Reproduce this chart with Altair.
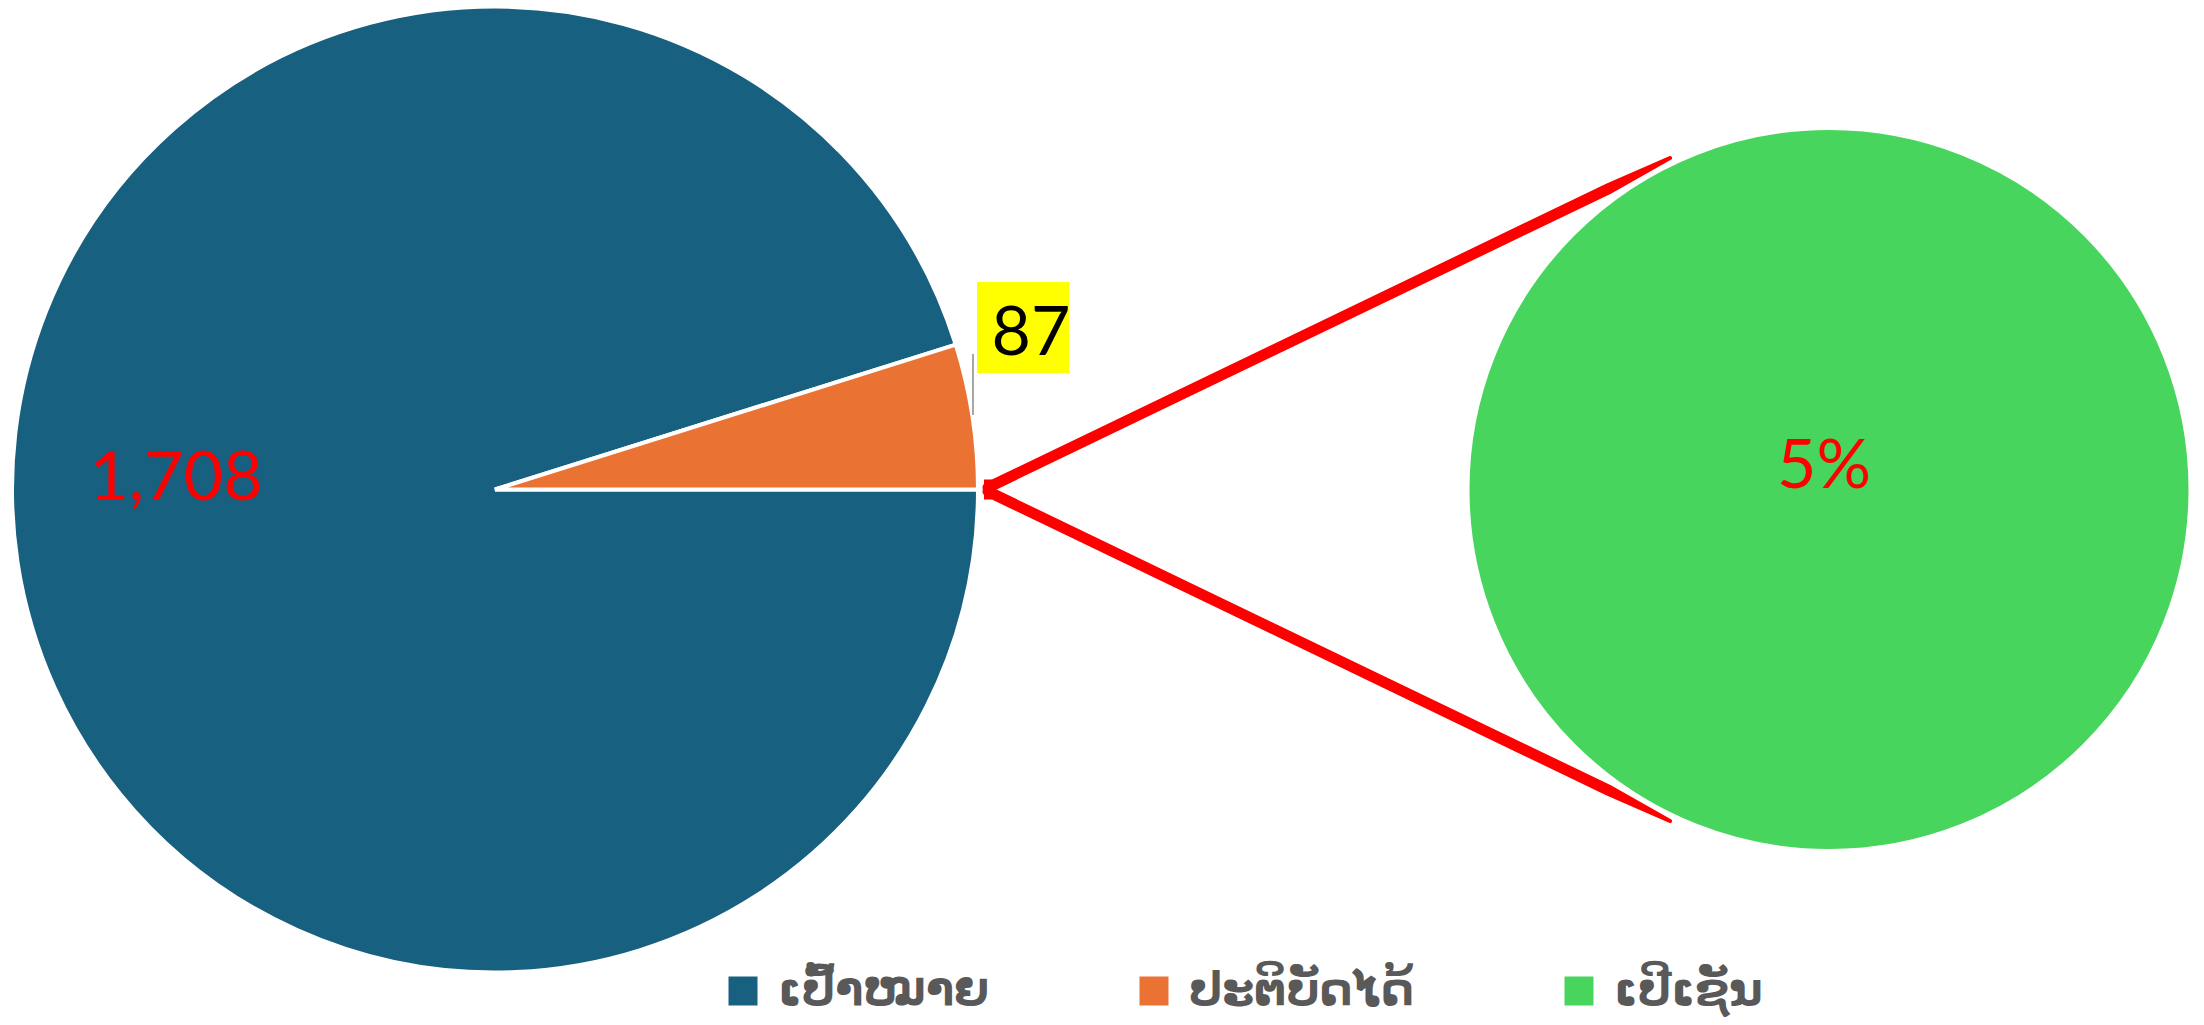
import math
import altair as alt
import pandas as pd

# ---- data ----
categories = ["ເປົ້າໝາຍ", "ປະຕິບັດໄດ້", "ເປີເຊັນ"]
colors = ["#17607F", "#EA7333", "#48D55D"]
main_values = [1708, 87]       # target, achieved
percent_values = [5]           # achieved as percent

left_df = pd.DataFrame({"cat": categories[:2], "v": main_values, "idx": [0, 1]})
right_df = pd.DataFrame({"cat": [categories[2]], "v": percent_values, "idx": [0]})
one = pd.DataFrame({"a": [0]})

W, H = 2188, 1009
start = math.pi / 2
theta_scale = alt.Scale(range=[start, start + 2 * math.pi])

color = alt.Color(
    "cat:N",
    scale=alt.Scale(domain=categories, range=colors),
    legend=alt.Legend(
        title=None,
        orient="none",
        legendX=712,
        legendY=960,
        direction="horizontal",
        symbolType="square",
        symbolSize=841,
        symbolStrokeWidth=0,
        labelFont="DejaVu Sans",
        labelFontSize=46,
        labelFontWeight="bold",
        labelColor="#595959",
        labelOffset=12,
        labelLimit=0,
        columnPadding=142,
    ),
)

left_pie = alt.Chart(left_df).mark_arc(radius=483, stroke="white", strokeWidth=4).encode(
    theta=alt.Theta("v:Q", stack=True, scale=theta_scale),
    color=color,
    order=alt.Order("idx:Q"),
    x=alt.value(487),
    y=alt.value(481.5),
)

right_pie = alt.Chart(right_df).mark_arc(radius=361.5, stroke="white", strokeWidth=4).encode(
    theta=alt.Theta("v:Q", stack=True, scale=theta_scale),
    color=color,
    order=alt.Order("idx:Q"),
    x=alt.value(1821),
    y=alt.value(481.5),
)

label_font = "Lato"

lbl_target = alt.Chart(pd.DataFrame({"t": [main_values[0]]})).mark_text(
    font=label_font, fontSize=68, color="#FF0000", align="center", baseline="alphabetic"
).encode(text=alt.Text("t:Q", format=","), x=alt.value(168), y=alt.value(492))

box = alt.Chart(one).mark_rect(color="#FFFF00").encode(
    x=alt.value(969), x2=alt.value(1061), y=alt.value(274), y2=alt.value(365)
)
leader = alt.Chart(one).mark_rule(color="#A6A6A6", strokeWidth=2).encode(
    x=alt.value(965), y=alt.value(346), y2=alt.value(407)
)
lbl_achieved = alt.Chart(pd.DataFrame({"t": [main_values[1]]})).mark_text(
    font=label_font, fontSize=68, color="#000000", align="center", baseline="alphabetic"
).encode(text=alt.Text("t:Q", format=","), x=alt.value(1023), y=alt.value(347))

lbl_pct = alt.Chart(pd.DataFrame({"t": [percent_values[0]]})).transform_calculate(
    s="datum.t + '%'"
).mark_text(
    font=label_font, fontSize=68, color="#FF0000", align="center", baseline="alphabetic"
).encode(text="s:N", x=alt.value(1816), y=alt.value(480))

# red connector (tapered trail)
vx, vy = 978, 481.5
red = "#FF0000"
trail_pts = pd.DataFrame({
    "g": ["u", "u", "u", "l", "l", "l"],
    "o": [0, 1, 2, 0, 1, 2],
    "px": [vx + 2, 1600, 1662, vx + 2, 1600, 1662],
    "py": [vy - 2, 181, 150, vy + 2, 782, 813],
    "w": [11, 11, 4, 11, 11, 4],
})
conn = alt.Chart(trail_pts).mark_trail(color=red).encode(
    x=alt.X("px:Q", scale=None),
    y=alt.Y("py:Q", scale=None),
    size=alt.Size("w:Q", scale=None, legend=None),
    detail="g:N",
    order="o:Q",
)
vertex = alt.Chart(one).mark_rule(color=red, strokeWidth=8).encode(
    x=alt.value(vx + 2), y=alt.value(vy - 10), y2=alt.value(vy + 10))

chart = alt.layer(
    left_pie, right_pie, conn, vertex, box, leader, lbl_target, lbl_achieved, lbl_pct
).resolve_scale(theta="independent").properties(
    width=W, height=H, autosize="none", padding=0
).configure_view(stroke=None)

chart.save("out.html", embed_options={"renderer": "svg", "actions": False})
